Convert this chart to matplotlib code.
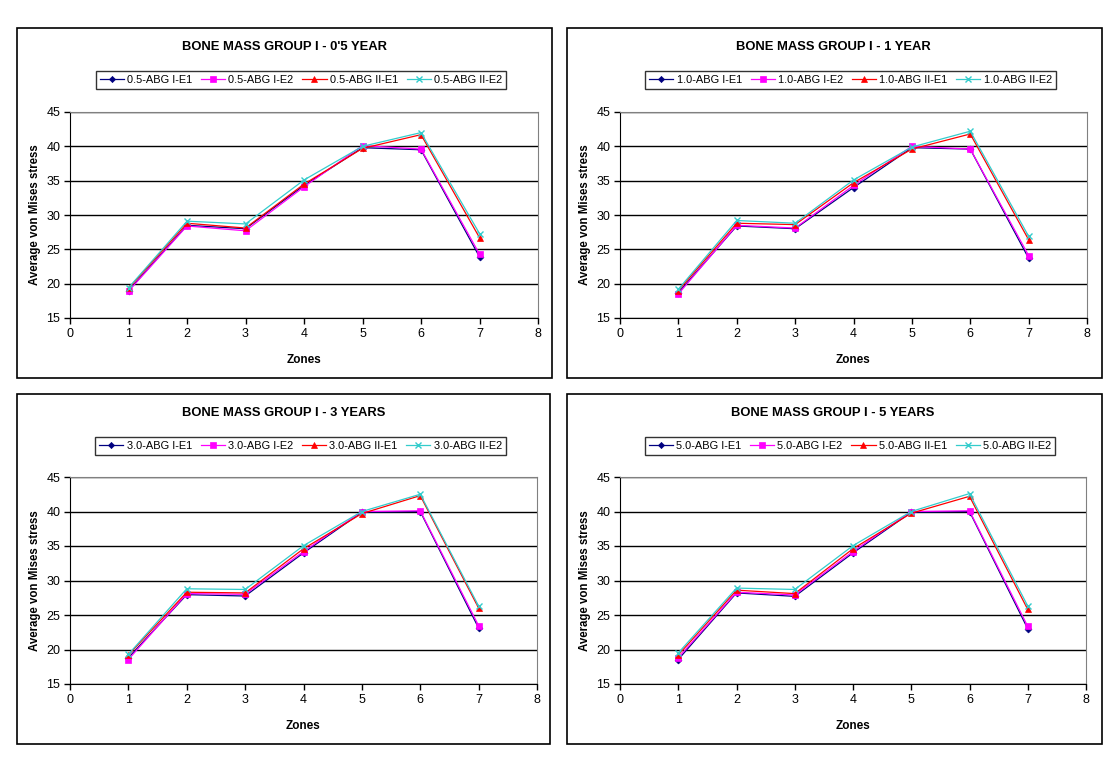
import numpy as np
import matplotlib as mpl
mpl.use('Agg')
import matplotlib.pyplot as plt
from matplotlib.patches import Rectangle

plt.rcParams['font.family'] = ['Liberation Sans', 'DejaVu Sans']

zones = [1, 2, 3, 4, 5, 6, 7]
x_ticks = [0, 1, 2, 3, 4, 5, 6, 7, 8]
y_ticks = [15, 20, 25, 30, 35, 40, 45]

titles = ["BONE MASS GROUP I - 0'5 YEAR", "BONE MASS GROUP I - 1 YEAR",
          "BONE MASS GROUP I - 3 YEARS", "BONE MASS GROUP I - 5 YEARS"]
prefixes = ["0.5", "1.0", "3.0", "5.0"]
series_names = ["ABG I-E1", "ABG I-E2", "ABG II-E1", "ABG II-E2"]

# 0.5 year
y05_i_e1 = [19.0, 28.5, 28.0, 34.3, 39.8, 39.5, 23.9]
y05_i_e2 = [18.9, 28.4, 27.7, 34.1, 40.1, 39.6, 24.3]
y05_ii_e1 = [19.3, 28.8, 28.1, 34.5, 39.7, 41.7, 26.7]
y05_ii_e2 = [19.4, 29.1, 28.7, 35.1, 40.0, 42.0, 27.3]
# 1 year
y10_i_e1 = [18.7, 28.4, 28.0, 34.0, 39.8, 39.6, 23.7]
y10_i_e2 = [18.5, 28.5, 28.1, 34.3, 40.0, 39.6, 24.1]
y10_ii_e1 = [19.0, 28.8, 28.6, 34.7, 39.6, 41.8, 26.4]
y10_ii_e2 = [19.2, 29.2, 28.8, 35.1, 39.9, 42.2, 26.9]
# 3 years
y30_i_e1 = [18.8, 27.95, 27.75, 34.0, 39.9, 40.0, 23.1]
y30_i_e2 = [18.55, 28.1, 28.0, 34.2, 40.0, 40.1, 23.45]
y30_ii_e1 = [19.2, 28.3, 28.2, 34.6, 39.7, 42.3, 26.0]
y30_ii_e2 = [19.3, 28.8, 28.7, 35.05, 40.0, 42.5, 26.3]
# 5 years
y50_i_e1 = [18.55, 28.2, 27.7, 34.0, 39.9, 40.0, 23.0]
y50_i_e2 = [18.8, 28.3, 27.9, 34.2, 40.0, 40.1, 23.35]
y50_ii_e1 = [19.2, 28.6, 28.1, 34.6, 39.75, 42.2, 25.8]
y50_ii_e2 = [19.5, 28.9, 28.7, 35.05, 40.0, 42.6, 26.3]

panels = [
    [y05_i_e1, y05_i_e2, y05_ii_e1, y05_ii_e2],
    [y10_i_e1, y10_i_e2, y10_ii_e1, y10_ii_e2],
    [y30_i_e1, y30_i_e2, y30_ii_e1, y30_ii_e2],
    [y50_i_e1, y50_i_e2, y50_ii_e1, y50_ii_e2],
]

colors = ['#000080', '#FF00FF', '#FF0000', '#33CCCC']
markers = ['D', 's', '^', 'x']
msizes = [3.5, 5, 4.5, 4.5]

W, H = 1113, 768
fig = plt.figure(figsize=(W / 100, H / 100), dpi=100)

# pixel boxes: (panel left, top, right, bottom), (plot left, top, right, bottom)
boxes = [((17, 28, 552, 378), (70, 112, 538, 318)),
         ((567, 28, 1102, 378), (620, 112, 1087, 318)),
         ((17, 394, 550, 744), (70, 477, 537, 684)),
         ((567, 394, 1102, 744), (620, 477, 1086, 684))]

for k, (pbox, abox) in enumerate(boxes):
    l, t, r, b = pbox
    fig.patches.append(Rectangle((l / W, 1 - b / H), (r - l) / W, (b - t) / H,
                                 transform=fig.transFigure, fill=False,
                                 edgecolor='black', linewidth=1.2))
    al, at, ar, ab = abox
    ax = fig.add_axes([al / W, 1 - ab / H, (ar - al) / W, (ab - at) / H])
    handles = []
    for j, ys in enumerate(panels[k]):
        h, = ax.plot(zones, ys, color=colors[j], marker=markers[j],
                     markersize=msizes[j], linewidth=0.9,
                     markeredgewidth=1.0 if markers[j] == 'x' else 0.5,
                     label=prefixes[k] + '-' + series_names[j], zorder=3 + j * 0.1)
        handles.append(h)
    ax.set_xlim(0, 8)
    ax.set_ylim(15, 45)
    ax.set_xticks(x_ticks)
    ax.set_yticks(y_ticks)
    ax.yaxis.grid(True, color='black', linewidth=1.0)
    ax.set_axisbelow(True)
    for s in ['top', 'right']:
        ax.spines[s].set_color('#808080')
    for s in ['left', 'bottom']:
        ax.spines[s].set_color('black')
    ax.tick_params(direction='out', length=4, width=1, labelsize=9, pad=3)
    ax.set_xlabel('Zones', fontsize=8.5, fontweight='bold', labelpad=10)
    ax.set_ylabel('Average von Mises stress', fontsize=8.3, fontweight='bold', labelpad=4)
    fig.text(((al + ar) / 2 - 20) / W, 1 - (t + 19) / H, titles[k], ha='center', va='center',
             fontsize=9.4, fontweight='bold')
    leg = fig.legend(handles=handles, loc='center', ncol=4,
                     bbox_to_anchor=(((al + ar) / 2 - 3) / W, 1 - (t + 52) / H),
                     fontsize=7.9, frameon=True, fancybox=False, edgecolor='black',
                     handlelength=2.2, handletextpad=0.3, columnspacing=0.8,
                     borderpad=0.35, markerscale=0.9)
    leg.get_frame().set_linewidth(1.0)

fig.savefig('out.png', dpi=100, facecolor='white')
